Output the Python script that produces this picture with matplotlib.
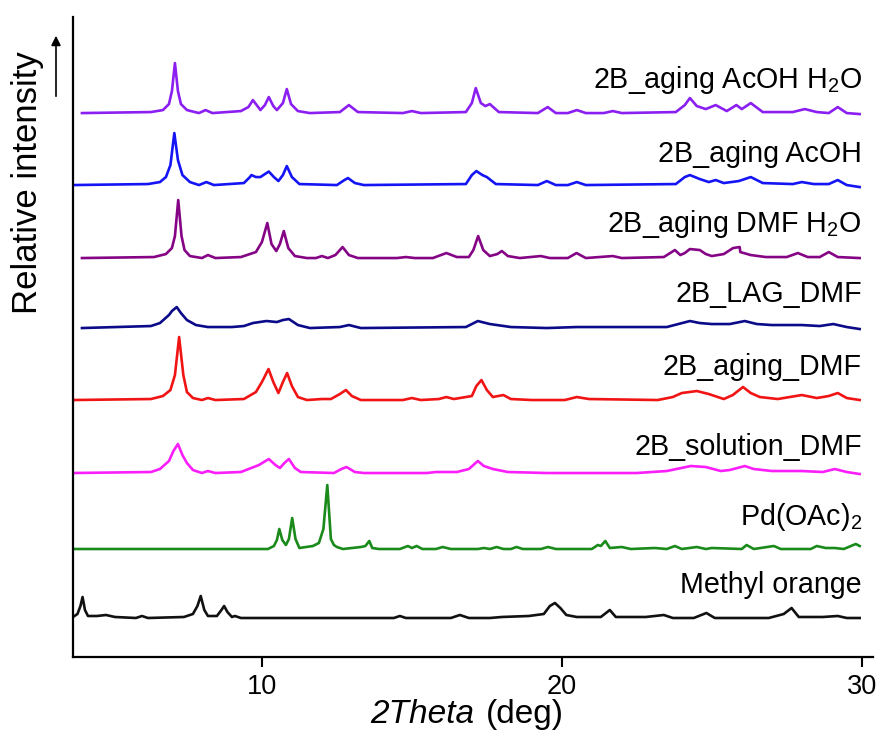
import numpy as np
import matplotlib.pyplot as plt

plt.rcParams['font.family'] = 'Liberation Sans'
plt.rcParams['mathtext.fontset'] = 'custom'
plt.rcParams['mathtext.rm'] = 'Liberation Sans'
plt.rcParams['mathtext.it'] = 'Liberation Sans:italic'

# (2theta, intensity above baseline)
aging_acoh_h2o = [(4.0, 0), (6.3, 1), (6.7, 3), (6.9, 9), (7.0, 22), (7.1, 50), (7.2, 22), (7.3, 9), (7.5, 3),
                  (7.9, 0), (8.12, 3), (8.35, 0), (9.3, 2), (9.55, 6), (9.7, 13), (9.95, 3), (10.1, 8),
                  (10.23, 16), (10.38, 7), (10.5, 3), (10.7, 10), (10.83, 24), (10.97, 9), (11.2, 2),
                  (11.6, 0), (12.6, 1), (12.9, 8), (13.2, 1), (14.7, 0), (15.0, 2), (15.3, 0), (16.8, 1),
                  (17.0, 10), (17.13, 25), (17.3, 10), (17.45, 7), (17.6, 9), (17.9, 1), (19.2, 0),
                  (19.53, 6), (19.8, 0), (20.2, 0), (20.5, 3), (20.8, 0), (21.4, 0), (21.7, 2), (22.0, 0),
                  (23.8, 1), (24.1, 8), (24.27, 15), (24.5, 7), (24.8, 4), (25.13, 8), (25.5, 2),
                  (25.82, 8), (26.0, 4), (26.3, 10), (26.7, 1), (27.7, 1), (28.1, 4), (28.5, 1),
                  (28.9, 0), (29.2, 6), (29.5, 0), (29.93, -1)]

aging_acoh = [(3.7, 0), (6.2, 1), (6.6, 3), (6.8, 8), (6.95, 20), (7.08, 52), (7.2, 25), (7.35, 10), (7.6, 3),
              (7.9, 0), (8.15, 3), (8.4, 0), (9.4, 2), (9.6, 8), (9.65, 10), (9.8, 8), (9.95, 8), (10.1, 11),
              (10.23, 13.5), (10.4, 8), (10.55, 4), (10.7, 10), (10.83, 19), (11.0, 8), (11.25, 1),
              (12.5, 0), (12.75, 5), (12.87, 7), (13.1, 2), (13.4, 0), (16.8, 1), (17.0, 10), (17.15, 14),
              (17.35, 10), (17.5, 8), (17.8, 1), (19.2, 0), (19.5, 4), (19.8, 0), (20.2, 0), (20.5, 3),
              (20.8, 0), (23.8, 1), (24.1, 8), (24.27, 10), (24.6, 6), (24.9, 3), (25.13, 5), (25.4, 2),
              (25.9, 4), (26.3, 8), (26.7, 2), (27.7, 1), (28.0, 3), (28.4, 1), (28.9, 1), (29.2, 5),
              (29.5, 0), (29.93, -2)]

aging_dmf_h2o = [(4.0, 0), (6.4, 1), (6.8, 4), (7.0, 10), (7.1, 22), (7.21, 58), (7.32, 22), (7.42, 8),
                 (7.6, 2), (8.0, 0), (8.2, 3), (8.45, 0), (9.3, 1), (9.8, 6), (10.0, 16), (10.18, 35),
                 (10.32, 14), (10.48, 7), (10.6, 14), (10.73, 27), (10.88, 10), (11.1, 2), (11.5, 0),
                 (11.8, 0), (12.0, 2), (12.2, 0), (12.45, 3), (12.69, 11), (12.9, 3), (13.2, 0), (14.5, 0),
                 (14.8, 1), (15.1, 0), (15.7, 0), (16.15, 5), (16.5, 1), (16.9, 1), (17.05, 8), (17.21, 22),
                 (17.38, 8), (17.6, 2), (17.85, 4), (18.0, 7), (18.2, 2), (18.6, 0), (19.3, 2), (19.6, 0),
                 (20.2, 0), (20.49, 5), (20.8, 0), (21.7, 2), (22.0, 0), (23.4, 1), (23.77, 8), (23.95, 3),
                 (24.1, 5), (24.27, 9), (24.6, 8), (24.8, 4), (25.0, 2), (25.4, 4), (25.71, 10),
                 (25.93, 11), (25.95, 6), (26.3, 3), (26.8, 1), (27.5, 1), (27.87, 5), (28.2, 1),
                 (28.6, 1), (28.9, 6), (29.2, 1), (29.93, 0)]

lag_dmf = [(4.0, 0), (6.3, 2), (6.6, 5), (6.9, 13), (7.0, 17), (7.16, 21), (7.3, 15), (7.5, 8), (7.8, 3),
           (8.2, 1), (9.0, 1), (9.4, 2), (9.7, 5), (10.15, 7), (10.5, 6), (10.7, 8), (10.9, 9), (11.2, 3),
           (11.6, 0), (12.6, 1), (12.9, 3), (13.3, 0), (16.8, 1), (17.2, 7), (17.6, 4), (18.3, 1),
           (19.5, 0), (20.5, 1), (23.5, 1), (24.27, 7), (24.6, 5), (25.0, 4), (25.6, 4), (26.1, 7),
           (26.5, 4), (27.0, 3), (28.0, 3), (28.6, 2), (29.05, 4), (29.5, 1), (29.93, -1)]

aging_dmf = [(3.7, 0), (6.3, 1), (6.7, 4), (6.95, 10), (7.1, 25), (7.24, 63), (7.38, 25), (7.5, 8), (7.7, 2),
             (8.0, 0), (8.2, 2), (8.45, 0), (9.4, 1), (9.8, 8), (10.0, 18), (10.22, 31), (10.38, 18),
             (10.55, 7), (10.7, 18), (10.84, 27), (11.0, 14), (11.2, 3), (11.5, 0), (12.0, 1), (12.3, 1),
             (12.6, 6), (12.8, 10), (13.0, 4), (13.3, 0), (14.7, 0), (15.0, 2), (15.3, 0), (15.9, 1),
             (16.15, 3), (16.4, 1), (17.0, 4), (17.15, 14), (17.32, 20), (17.5, 10), (17.7, 3), (18.05, 5),
             (18.3, 1), (19.0, 0), (20.1, 0), (20.5, 3), (20.9, 1), (23.2, 0), (23.7, 3), (24.0, 7),
             (24.5, 9), (24.9, 6), (25.2, 3), (25.4, 1), (25.7, 5), (26.04, 13), (26.3, 7), (26.6, 3),
             (27.2, 1), (28.0, 5), (28.5, 2), (28.9, 4), (29.2, 7), (29.5, 2), (29.93, 0)]

solution_dmf = [(3.7, 0), (6.3, 1), (6.6, 4), (6.9, 12), (7.05, 22), (7.2, 29), (7.35, 18), (7.5, 10),
                (7.7, 3), (8.0, 0), (8.2, 2), (8.45, 0), (9.3, 1), (9.9, 8), (10.23, 14), (10.45, 8),
                (10.6, 5), (10.75, 10), (10.9, 14), (11.1, 5), (11.3, 1), (12.4, 0), (12.65, 4), (12.82, 6),
                (13.1, 1), (13.4, 0), (15.5, 0), (15.8, 1), (16.5, 1), (16.9, 4), (17.2, 12), (17.4, 7),
                (17.7, 4), (18.2, 1), (19.5, 0), (22.5, 0), (23.5, 2), (24.3, 7), (24.8, 6), (25.3, 2),
                (25.6, 3), (26.1, 7), (26.4, 4), (27.0, 2), (28.0, 2), (28.7, 1), (29.1, 4), (29.5, 1),
                (29.93, -1)]

pd_oac2 = [(3.7, 0), (10.2, 0), (10.4, 3), (10.5, 9), (10.58, 20), (10.68, 9), (10.8, 4), (10.9, 10),
           (11.01, 31), (11.12, 10), (11.25, 1), (11.7, 3), (11.9, 6), (12.05, 20), (12.18, 64), (12.3, 10),
           (12.4, 4), (12.5, 2), (12.7, 0), (13.3, 2), (13.45, 3), (13.58, 8), (13.68, 1), (13.9, 0),
           (14.6, 0), (14.87, 3), (15.0, 1), (15.16, 3), (15.35, 0), (15.8, 0), (16.03, 2), (16.3, 0),
           (17.2, 0), (17.4, 1), (17.6, 0), (17.83, 2), (18.05, 0), (18.3, 0), (18.49, 2), (18.7, 0),
           (19.3, 0), (19.54, 2), (19.8, 0), (21.0, 0), (21.2, 4), (21.3, 3), (21.45, 8), (21.6, 1),
           (22.0, 2), (22.3, 0), (23.1, 1), (23.5, 0), (23.77, 3), (24.0, 0), (24.5, 2), (24.8, 0),
           (25.0, 1), (26.0, 0), (26.16, 4), (26.4, 0), (27.07, 3), (27.3, 0), (28.3, 0), (28.5, 3),
           (28.8, 1), (29.1, 1), (29.4, 0), (29.8, 5), (29.93, 3)]

methyl_orange = [(3.7, 1), (3.85, 4), (3.95, 12), (4.02, 21), (4.1, 8), (4.2, 2), (4.5, 2), (4.8, 3),
                 (5.1, 1), (5.8, 0), (6.0, 2), (6.2, 0), (7.4, 1), (7.7, 4), (7.85, 12), (7.96, 22),
                 (8.08, 8), (8.2, 2), (8.5, 2), (8.65, 8), (8.74, 12), (8.85, 6), (9.0, 1), (9.1, 2),
                 (9.3, 0), (14.4, 0), (14.6, 2), (14.8, 0), (16.3, 0), (16.6, 3), (16.9, 0), (17.6, 0),
                 (18.0, 1), (18.9, 2), (19.4, 4), (19.6, 12), (19.77, 15), (19.95, 10), (20.15, 3),
                 (20.5, 1), (21.3, 1), (21.6, 8), (21.8, 1), (22.8, 1), (23.4, 3), (23.7, 0), (24.4, 0),
                 (24.82, 5), (25.1, 0), (26.9, 0), (27.4, 4), (27.66, 10), (27.9, 1), (28.7, 1), (29.2, 2),
                 (29.5, 0), (29.93, 0)]

patterns = [aging_acoh_h2o, aging_acoh, aging_dmf_h2o, lag_dmf,
            aging_dmf, solution_dmf, pd_oac2, methyl_orange]
names = ['2B_aging AcOH H$_2$O', '2B_aging AcOH', '2B_aging DMF H$_2$O', '2B_LAG_DMF',
         '2B_aging_DMF', '2B_solution_DMF', 'Pd(OAc)$_2$', 'Methyl orange']
colors = ['#8b1ef0', '#1414f5', '#850485', '#0b0b8a', '#f01414', '#fa1efa', '#1a8a1a', '#111111']

# vertical stacking and label heights
offsets = [544, 472, 399, 329, 257, 184, 108, 39]
label_y = [569, 495, 425, 355, 282, 202, 132, 64]

fig = plt.figure(figsize=(8.79, 7.33), dpi=100)
ax = fig.add_axes([0.083, 0.1037, 0.910, 0.873])

for pat, off, c in zip(patterns, offsets, colors):
    x, h = np.array(pat, dtype=float).T
    ax.plot(x, h + off, color=c, lw=1.9, solid_joinstyle='round')

for name, y in zip(names, label_y):
    ax.text(30.0, y, name, ha='right', va='baseline', fontsize=20.6)

ax.set_xlim(3.7, 30.37)
ax.set_ylim(0, 640)
ax.spines['top'].set_visible(False)
ax.spines['right'].set_visible(False)
ax.spines['left'].set_linewidth(1.6)
ax.spines['bottom'].set_linewidth(1.6)
ax.set_yticks([])
ax.set_xticks([10, 20, 30])
ax.tick_params(axis='x', direction='out', length=7, width=1.5, labelsize=19.5, pad=5)

# axis titles: italic "2Theta" followed by upright unit
fig.text(474 / 879, 1 - 723 / 733, '2Theta', style='italic', ha='right', va='baseline', fontsize=24)
fig.text(486 / 879, 1 - 723 / 733, '(deg)', ha='left', va='baseline', fontsize=24)
fig.text(28 / 879, 1 - 183 / 733, 'Relative intensity', rotation=90, ha='center', va='center', fontsize=25)
ax.annotate('', xy=(56 / 879, 1 - 33 / 733), xytext=(56 / 879, 1 - 99 / 733),
            xycoords='figure fraction', textcoords='figure fraction',
            arrowprops=dict(arrowstyle='-|>', lw=1.2, color='k', mutation_scale=14))

plt.savefig('out.png', dpi=100)
